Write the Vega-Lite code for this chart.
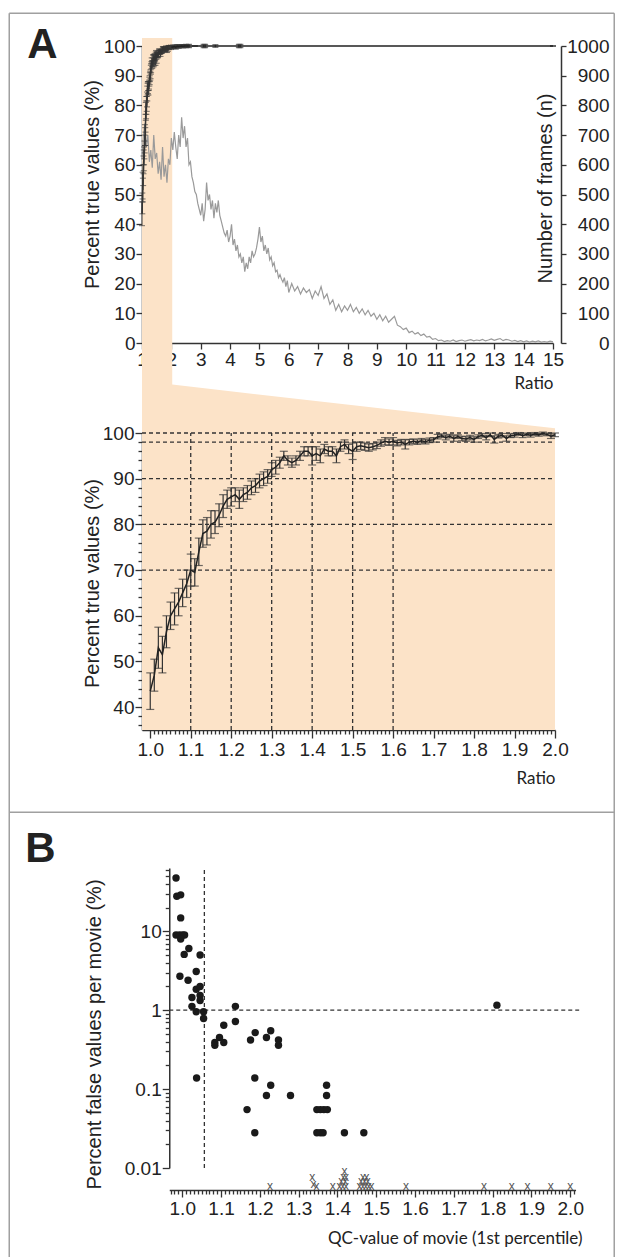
{
 "$schema": "https://vega.github.io/schema/vega-lite/v6.json",
 "background": "white",
 "padding": {"left": 8, "top": 12, "right": 4, "bottom": 0},
 "autosize": {"type": "pad"},
 "bounds": "flush",
 "spacing": 90,
 "datasets": {
  "pct": [
   {"x":1.00,"m":43.5,"y":39.5,"y2":47.5},{"x":1.01,"m":47,"y":43.5,"y2":50.5},{"x":1.02,"m":53,"y":48.5,"y2":57.5},{"x":1.03,"m":51.5,"y":47.5,"y2":55.5},{"x":1.04,"m":56.5,"y":53,"y2":60},
   {"x":1.05,"m":60,"y":57,"y2":63},{"x":1.06,"m":61.5,"y":58,"y2":65},{"x":1.07,"m":63,"y":60,"y2":66},{"x":1.08,"m":65,"y":62,"y2":68},{"x":1.09,"m":67,"y":64,"y2":70},
   {"x":1.10,"m":70,"y":66.5,"y2":73.5},{"x":1.11,"m":69.5,"y":66.5,"y2":72.5},{"x":1.12,"m":74,"y":71,"y2":77},{"x":1.13,"m":78,"y":75,"y2":81},{"x":1.14,"m":78.5,"y":75.5,"y2":81.5},
   {"x":1.15,"m":80,"y":77,"y2":83},{"x":1.16,"m":80.5,"y":78,"y2":83},{"x":1.17,"m":82,"y":79.5,"y2":84.5},{"x":1.18,"m":84,"y":81.5,"y2":86.5},{"x":1.19,"m":85.5,"y":83.5,"y2":87.5},
   {"x":1.20,"m":86,"y":84,"y2":88},{"x":1.21,"m":86.5,"y":85,"y2":88},{"x":1.22,"m":85.5,"y":83.5,"y2":87.5},{"x":1.23,"m":86.5,"y":85,"y2":88},{"x":1.24,"m":87,"y":85.5,"y2":88.5},
   {"x":1.25,"m":88,"y":86.5,"y2":89.5},{"x":1.26,"m":88.5,"y":87,"y2":90},{"x":1.27,"m":89.5,"y":88,"y2":91},{"x":1.28,"m":90,"y":88.5,"y2":91.5},{"x":1.29,"m":90.5,"y":89,"y2":92},
   {"x":1.30,"m":92,"y":90.5,"y2":93.5},{"x":1.31,"m":92.5,"y":91,"y2":94},{"x":1.32,"m":93.5,"y":92.3,"y2":94.7},{"x":1.33,"m":95,"y":94,"y2":96},{"x":1.34,"m":94,"y":93,"y2":95},
   {"x":1.35,"m":93.5,"y":92.5,"y2":94.5},{"x":1.36,"m":94,"y":93,"y2":95},{"x":1.37,"m":95,"y":94,"y2":96},{"x":1.38,"m":96,"y":95,"y2":97},{"x":1.39,"m":96,"y":95,"y2":97},
   {"x":1.40,"m":95,"y":93,"y2":97},{"x":1.41,"m":95.5,"y":94,"y2":97},{"x":1.42,"m":95,"y":93.5,"y2":96.5},{"x":1.43,"m":96.5,"y":95.5,"y2":97.5},{"x":1.44,"m":96,"y":95,"y2":97},
   {"x":1.45,"m":96,"y":95,"y2":97},{"x":1.46,"m":95,"y":93.5,"y2":96.5},{"x":1.47,"m":97,"y":96,"y2":98},{"x":1.48,"m":97.5,"y":96.5,"y2":98.5},{"x":1.49,"m":96.5,"y":95.5,"y2":97.5},
   {"x":1.50,"m":96,"y":94.2,"y2":97.8},{"x":1.51,"m":97,"y":96,"y2":98},{"x":1.52,"m":97.2,"y":96.4,"y2":98},{"x":1.53,"m":97,"y":96.2,"y2":97.8},{"x":1.54,"m":96.8,"y":96,"y2":97.6},
   {"x":1.55,"m":97,"y":96.3,"y2":97.7},{"x":1.56,"m":97.3,"y":96.6,"y2":98},{"x":1.57,"m":97.8,"y":97.1,"y2":98.5},{"x":1.58,"m":98.2,"y":97.4,"y2":99},{"x":1.59,"m":98,"y":97.3,"y2":98.7},
   {"x":1.60,"m":98.2,"y":97.4,"y2":99},{"x":1.61,"m":97.8,"y":97.2,"y2":98.4},{"x":1.62,"m":98,"y":97.4,"y2":98.6},{"x":1.63,"m":97.5,"y":96.5,"y2":98.5},{"x":1.64,"m":98,"y":97.4,"y2":98.6},
   {"x":1.65,"m":98.2,"y":97.7,"y2":98.7},{"x":1.66,"m":98,"y":97.5,"y2":98.5},{"x":1.67,"m":98.3,"y":97.8,"y2":98.8},{"x":1.68,"m":98.1,"y":97.6,"y2":98.6},{"x":1.69,"m":98.4,"y":97.9,"y2":98.9},
   {"x":1.70,"m":98.5,"y":98,"y2":99},{"x":1.71,"m":99.2,"y":98.7,"y2":99.7},{"x":1.72,"m":99.4,"y":99,"y2":99.8},{"x":1.73,"m":99,"y":98.5,"y2":99.5},{"x":1.74,"m":99.3,"y":98.9,"y2":99.7},
   {"x":1.75,"m":98.8,"y":98.2,"y2":99.4},{"x":1.76,"m":99.2,"y":98.8,"y2":99.6},{"x":1.77,"m":98.8,"y":98.3,"y2":99.3},{"x":1.78,"m":98.7,"y":98.2,"y2":99.2},{"x":1.79,"m":99,"y":98.5,"y2":99.5},
   {"x":1.80,"m":98.6,"y":98,"y2":99.2},{"x":1.81,"m":99.2,"y":98.8,"y2":99.6},{"x":1.82,"m":99.5,"y":99.1,"y2":99.9},{"x":1.83,"m":99,"y":98.5,"y2":99.5},{"x":1.84,"m":99.6,"y":99.2,"y2":100},
   {"x":1.85,"m":98.6,"y":97.8,"y2":99.4},{"x":1.86,"m":99.3,"y":98.9,"y2":99.7},{"x":1.87,"m":99.5,"y":99.1,"y2":99.9},{"x":1.88,"m":98.8,"y":98.2,"y2":99.4},{"x":1.89,"m":99.4,"y":99,"y2":99.8},
   {"x":1.90,"m":99.5,"y":99.1,"y2":99.9},{"x":1.91,"m":99.8,"y":99.5,"y2":100.1},{"x":1.92,"m":99.4,"y":99,"y2":99.8},{"x":1.93,"m":99.7,"y":99.4,"y2":100},{"x":1.94,"m":99.5,"y":99.1,"y2":99.9},
   {"x":1.95,"m":99.8,"y":99.5,"y2":100.1},{"x":1.96,"m":99.6,"y":99.3,"y2":99.9},{"x":1.97,"m":99.9,"y":99.6,"y2":100.2},{"x":1.98,"m":99.7,"y":99.4,"y2":100},{"x":1.99,"m":99.3,"y":98.8,"y2":99.8},
   {"x":2.00,"m":99.6,"y":99.2,"y2":100}
  ],
  "tail": [
   {"x":2.0,"m":99.6,"y":99.6,"y2":99.6},{"x":2.05,"m":99.7,"y":99.2,"y2":100.2},{"x":2.1,"m":99.8,"y":99.3,"y2":100.3},{"x":2.15,"m":99.6,"y":99.0,"y2":100.2},
   {"x":2.2,"m":99.9,"y":99.4,"y2":100.4},{"x":2.25,"m":99.8,"y":99.3,"y2":100.3},{"x":2.3,"m":99.9,"y":99.5,"y2":100.3},{"x":2.35,"m":100,"y":99.6,"y2":100.4},
   {"x":2.4,"m":99.9,"y":99.4,"y2":100.4},{"x":2.45,"m":100,"y":99.6,"y2":100.4},{"x":2.5,"m":100,"y":99.5,"y2":100.5},{"x":2.55,"m":100,"y":99.6,"y2":100.4},
   {"x":2.6,"m":100,"y":99.5,"y2":100.5},{"x":2.8,"m":100,"y":100,"y2":100},{"x":3.1,"m":100,"y":99.5,"y2":100.5},{"x":3.15,"m":100,"y":99.5,"y2":100.5},
   {"x":3.5,"m":100,"y":99.6,"y2":100.4},{"x":4.3,"m":100,"y":99.5,"y2":100.5},{"x":4.35,"m":100,"y":99.5,"y2":100.5},{"x":15,"m":100,"y":100,"y2":100}
  ],
  "frames": [
   {"x":1.00,"n":620},{"x":1.05,"n":700},{"x":1.10,"n":740},{"x":1.15,"n":660},{"x":1.20,"n":700},{"x":1.25,"n":610},{"x":1.30,"n":650},{"x":1.35,"n":590},{"x":1.40,"n":700},{"x":1.45,"n":620},
   {"x":1.50,"n":640},{"x":1.55,"n":570},{"x":1.60,"n":610},{"x":1.65,"n":550},{"x":1.70,"n":660},{"x":1.75,"n":560},{"x":1.80,"n":600},{"x":1.85,"n":540},{"x":1.90,"n":620},{"x":1.95,"n":600},
   {"x":2.00,"n":690},{"x":2.05,"n":650},{"x":2.10,"n":710},{"x":2.15,"n":660},{"x":2.20,"n":620},{"x":2.25,"n":700},{"x":2.30,"n":660},{"x":2.35,"n":760},{"x":2.40,"n":690},{"x":2.45,"n":730},
   {"x":2.50,"n":660},{"x":2.55,"n":690},{"x":2.60,"n":600},{"x":2.65,"n":610},{"x":2.70,"n":560},{"x":2.75,"n":540},{"x":2.80,"n":510},{"x":2.85,"n":500},{"x":2.90,"n":470},{"x":2.95,"n":450},
   {"x":3.00,"n":430},{"x":3.05,"n":470},{"x":3.10,"n":410},{"x":3.15,"n":450},{"x":3.20,"n":540},{"x":3.25,"n":480},{"x":3.30,"n":500},{"x":3.35,"n":450},{"x":3.40,"n":480},{"x":3.45,"n":420},
   {"x":3.50,"n":470},{"x":3.55,"n":440},{"x":3.60,"n":480},{"x":3.65,"n":430},{"x":3.70,"n":410},{"x":3.75,"n":390},{"x":3.80,"n":370},{"x":3.85,"n":360},{"x":3.90,"n":380},{"x":3.95,"n":340},
   {"x":4.00,"n":360},{"x":4.05,"n":400},{"x":4.10,"n":330},{"x":4.15,"n":350},{"x":4.20,"n":310},{"x":4.25,"n":330},{"x":4.30,"n":290},{"x":4.35,"n":300},{"x":4.40,"n":270},{"x":4.45,"n":290},
   {"x":4.50,"n":240},{"x":4.55,"n":270},{"x":4.60,"n":250},{"x":4.65,"n":290},{"x":4.70,"n":270},{"x":4.75,"n":310},{"x":4.80,"n":290},{"x":4.85,"n":300},{"x":4.90,"n":320},{"x":4.95,"n":350},
   {"x":5.00,"n":390},{"x":5.05,"n":340},{"x":5.10,"n":360},{"x":5.15,"n":310},{"x":5.20,"n":330},{"x":5.25,"n":300},{"x":5.30,"n":320},{"x":5.35,"n":280},{"x":5.40,"n":290},{"x":5.45,"n":260},
   {"x":5.50,"n":270},{"x":5.55,"n":240},{"x":5.60,"n":245},{"x":5.65,"n":220},{"x":5.70,"n":230},{"x":5.75,"n":215},{"x":5.80,"n":205},{"x":5.85,"n":220},{"x":5.90,"n":190},{"x":5.95,"n":210},
   {"x":6.0,"n":170},{"x":6.1,"n":200},{"x":6.2,"n":175},{"x":6.3,"n":190},{"x":6.4,"n":165},{"x":6.5,"n":185},{"x":6.6,"n":170},{"x":6.7,"n":180},{"x":6.8,"n":150},{"x":6.9,"n":175},
   {"x":7.0,"n":160},{"x":7.1,"n":190},{"x":7.2,"n":150},{"x":7.3,"n":165},{"x":7.4,"n":130},{"x":7.5,"n":145},{"x":7.6,"n":110},{"x":7.7,"n":130},{"x":7.8,"n":105},{"x":7.9,"n":125},
   {"x":8.0,"n":110},{"x":8.1,"n":130},{"x":8.2,"n":105},{"x":8.3,"n":120},{"x":8.4,"n":100},{"x":8.5,"n":115},{"x":8.6,"n":95},{"x":8.7,"n":110},{"x":8.8,"n":90},{"x":8.9,"n":100},
   {"x":9.0,"n":80},{"x":9.1,"n":95},{"x":9.2,"n":75},{"x":9.3,"n":90},{"x":9.4,"n":70},{"x":9.5,"n":80},{"x":9.6,"n":90},{"x":9.7,"n":60},{"x":9.8,"n":55},{"x":9.9,"n":45},
   {"x":10.0,"n":50},{"x":10.1,"n":35},{"x":10.2,"n":40},{"x":10.3,"n":30},{"x":10.4,"n":35},{"x":10.5,"n":25},{"x":10.6,"n":30},{"x":10.7,"n":20},{"x":10.8,"n":22},{"x":10.9,"n":12},
   {"x":11.0,"n":15},{"x":11.1,"n":8},{"x":11.2,"n":10},{"x":11.3,"n":5},{"x":11.4,"n":8},{"x":11.5,"n":6},{"x":11.6,"n":10},{"x":11.7,"n":5},{"x":11.8,"n":8},{"x":11.9,"n":10},
   {"x":12.0,"n":6},{"x":12.1,"n":9},{"x":12.2,"n":11},{"x":12.3,"n":7},{"x":12.4,"n":10},{"x":12.5,"n":8},{"x":12.6,"n":12},{"x":12.7,"n":7},{"x":12.8,"n":10},{"x":12.9,"n":14},
   {"x":13.0,"n":9},{"x":13.1,"n":12},{"x":13.2,"n":15},{"x":13.3,"n":8},{"x":13.4,"n":12},{"x":13.5,"n":10},{"x":13.6,"n":6},{"x":13.7,"n":9},{"x":13.8,"n":5},{"x":13.9,"n":8},
   {"x":14.0,"n":4},{"x":14.1,"n":7},{"x":14.2,"n":3},{"x":14.3,"n":6},{"x":14.4,"n":4},{"x":14.5,"n":7},{"x":14.6,"n":3},{"x":14.7,"n":5},{"x":14.8,"n":3},{"x":14.9,"n":6},{"x":15.0,"n":4}
  ],
  "movies": [
   {"x":0.984,"y":47.4},{"x":0.986,"y":27.9},{"x":0.996,"y":29},{"x":0.996,"y":14.8},{"x":0.984,"y":9.0},{"x":0.993,"y":9.0},{"x":1.001,"y":9.0},{"x":1.006,"y":9.0},
   {"x":0.996,"y":8.0},{"x":1.017,"y":6.07},{"x":1.005,"y":5.1},{"x":1.046,"y":5.0},{"x":0.994,"y":2.7},{"x":1.015,"y":2.4},{"x":1.036,"y":3.09},{"x":1.036,"y":1.84},
   {"x":1.046,"y":2.0},{"x":1.025,"y":1.45},{"x":1.046,"y":1.54},{"x":1.046,"y":1.33},{"x":1.025,"y":1.12},{"x":1.036,"y":0.955},{"x":1.055,"y":0.955},{"x":1.055,"y":0.785},
   {"x":1.137,"y":1.12},{"x":1.137,"y":0.72},{"x":1.107,"y":0.645},{"x":1.084,"y":0.39},{"x":1.084,"y":0.36},{"x":1.096,"y":0.45},{"x":1.107,"y":0.39},{"x":1.188,"y":0.52},
   {"x":1.176,"y":0.42},{"x":1.217,"y":0.45},{"x":1.228,"y":0.55},{"x":1.248,"y":0.42},{"x":1.248,"y":0.36},{"x":1.187,"y":0.138},{"x":1.228,"y":0.112},{"x":1.217,"y":0.083},
   {"x":1.279,"y":0.083},{"x":1.167,"y":0.055},{"x":1.187,"y":0.028},{"x":1.037,"y":0.138},{"x":1.347,"y":0.055},{"x":1.356,"y":0.055},{"x":1.365,"y":0.055},{"x":1.374,"y":0.055},
   {"x":1.372,"y":0.112},{"x":1.372,"y":0.083},{"x":1.347,"y":0.028},{"x":1.356,"y":0.028},{"x":1.363,"y":0.028},{"x":1.418,"y":0.028},{"x":1.468,"y":0.028},{"x":1.811,"y":1.16}
  ],
  "xs": [
   {"x":1.226,"y":0.0060},{"x":1.335,"y":0.0077},{"x":1.338,"y":0.0063},{"x":1.346,"y":0.0060},{"x":1.388,"y":0.0060},{"x":1.405,"y":0.0060},{"x":1.414,"y":0.0060},{"x":1.422,"y":0.0060},
   {"x":1.410,"y":0.0068},{"x":1.420,"y":0.0068},{"x":1.415,"y":0.0077},{"x":1.422,"y":0.0077},{"x":1.418,"y":0.0091},{"x":1.457,"y":0.0060},{"x":1.465,"y":0.0060},{"x":1.473,"y":0.0060},
   {"x":1.481,"y":0.0060},{"x":1.488,"y":0.0060},{"x":1.461,"y":0.0068},{"x":1.470,"y":0.0068},{"x":1.478,"y":0.0068},{"x":1.466,"y":0.0077},{"x":1.475,"y":0.0077},{"x":1.577,"y":0.0060},
   {"x":1.778,"y":0.0060},{"x":1.849,"y":0.0060},{"x":1.890,"y":0.0060},{"x":1.950,"y":0.0060},{"x":2.000,"y":0.0060}
  ]
 },
 "vconcat": [
  {
   "width": 411,
   "height": 297,
   "resolve": {"scale": {"y": "independent"}},
   "encoding": {
    "x": {"field": "x", "type": "quantitative", "scale": {"domain": [1, 15], "nice": false, "zero": false},
          "axis": {"values": [1,2,3,4,5,6,7,8,9,10,11,12,13,14,15], "labelOverlap": false, "title": "Ratio", "tickSize": 6, "labelPadding": 1,
                   "titleFont": "Lato", "titleFontSize": 17, "titleX": 411, "titleY": 40, "titleAlign": "right", "titleBaseline": "middle"}}
   },
   "layer": [
    {
     "encoding": {
      "y": {"field": "y", "type": "quantitative", "scale": {"domain": [0, 100], "nice": false, "zero": false},
            "axis": {"values": [0,10,20,30,40,50,60,70,80,90,100], "labelOverlap": false, "title": "Percent true values (%)", "tickSize": 6, "labelPadding": 1,
                     "titleX": -50, "titleY": 138, "titleAngle": -90, "titleBaseline": "middle"}}
     },
     "layer": [
      {
       "data": {"values": [{"x": 1, "x2": 2.03, "y": 102.7, "y2": -16}]},
       "mark": {"type": "rect", "color": "#fce3c8"},
       "encoding": {"x2": {"field": "x2"}, "y2": {"field": "y2"}}
      },
      {
       "data": {"values": [
        {"x": -3.522, "x2": 17.086, "y": 111.03, "y2": 111.03},
        {"x": -3.522, "x2": -3.522, "y": 111.03, "y2": -312},
        {"x": 17.086, "x2": 17.086, "y": 111.03, "y2": -312},
        {"x": -3.522, "x2": 17.086, "y": -158, "y2": -158}
       ]},
       "mark": {"type": "rule", "color": "#a0a0a0", "strokeWidth": 1.5},
       "encoding": {"x2": {"field": "x2"}, "y2": {"field": "y2"}}
      },
      {
       "data": {"values": [{"label": "A", "x": -2.909, "y": 95.9}]},
       "mark": {"type": "text", "align": "left", "baseline": "alphabetic", "font": "Liberation Sans", "fontSize": 42, "fontWeight": "bold", "color": "#222"},
       "encoding": {"text": {"field": "label"}}
      }
     ]
    },
    {
     "data": {"name": "frames"},
     "mark": {"type": "line", "color": "#9a9a9a", "strokeWidth": 1.2},
     "encoding": {
      "y": {"field": "n", "type": "quantitative", "scale": {"domain": [0, 1000], "nice": false, "zero": false},
            "axis": {"orient": "right", "offset": 8, "values": [0,100,200,300,400,500,600,700,800,900,1000], "format": "d", "labelOverlap": false, "title": "Number of frames (n)",
                     "tickSize": 5, "labelAlign": "right", "labelPadding": 43, "titleX": -16, "titleY": 142, "titleAngle": 270, "titleBaseline": "middle"}}
     }
    },
    {
     "encoding": {
      "y": {"field": "y", "type": "quantitative", "scale": {"domain": [0, 100], "nice": false, "zero": false}, "axis": null}
     },
     "layer": [
      {
       "data": {"name": "pct"},
       "mark": {"type": "errorbar", "ticks": true, "size": 6, "thickness": 1, "color": "#3a3a3a"},
       "encoding": {"y2": {"field": "y2"}}
      },
      {
       "data": {"name": "pct"},
       "mark": {"type": "line", "color": "#333", "strokeWidth": 1.5},
       "encoding": {"y": {"field": "m", "type": "quantitative", "axis": null}}
      },
      {
       "data": {"name": "tail"},
       "mark": {"type": "errorbar", "ticks": true, "size": 6, "thickness": 1.5, "color": "#3a3a3a"},
       "encoding": {"y2": {"field": "y2"}}
      },
      {
       "data": {"name": "tail"},
       "mark": {"type": "line", "color": "#222", "strokeWidth": 1.5},
       "encoding": {"y": {"field": "m", "type": "quantitative", "axis": null}}
      }
     ]
    }
   ]
  },
  {
   "width": 413,
   "height": 297,
   "encoding": {
    "x": {"field": "x", "type": "quantitative", "scale": {"domain": [0.9796, 2.0], "nice": false, "zero": false},
          "axis": {"values": [1,1.01,1.02,1.03,1.04,1.05,1.06,1.07,1.08,1.09,1.1,1.11,1.12,1.13,1.14,1.15,1.16,1.17,1.18,1.19,1.2,1.21,1.22,1.23,1.24,1.25,1.26,1.27,1.28,1.29,1.3,1.31,1.32,1.33,1.34,1.35,1.36,1.37,1.38,1.39,1.4,1.41,1.42,1.43,1.44,1.45,1.46,1.47,1.48,1.49,1.5,1.51,1.52,1.53,1.54,1.55,1.56,1.57,1.58,1.59,1.6,1.61,1.62,1.63,1.64,1.65,1.66,1.67,1.68,1.69,1.7,1.71,1.72,1.73,1.74,1.75,1.76,1.77,1.78,1.79,1.8,1.81,1.82,1.83,1.84,1.85,1.86,1.87,1.88,1.89,1.9,1.91,1.92,1.93,1.94,1.95,1.96,1.97,1.98,1.99,2],
                   "labelExpr": "abs(datum.value*10-round(datum.value*10))<0.001 ? format(datum.value,'.1f') : ''",
                   "tickSize": {"condition": {"test": "abs(datum.value*10-round(datum.value*10))<0.001", "value": 8}, "value": 4},
                   "labelOverlap": false, "labelPadding": 2, "title": "Ratio", "titleFont": "Lato", "titleFontSize": 17, "titleX": 413, "titleY": 48, "titleAlign": "right", "titleBaseline": "middle"}},
    "y": {"field": "y", "type": "quantitative", "scale": {"domain": [35, 100], "nice": false, "zero": false},
          "axis": {"values": [36,38,40,42,44,46,48,50,52,54,56,58,60,62,64,66,68,70,72,74,76,78,80,82,84,86,88,90,92,94,96,98,100],
                   "labelExpr": "datum.value%10==0 ? datum.label : ''",
                   "tickSize": {"condition": {"test": "datum.value%10==0", "value": 7}, "value": 4},
                   "labelOverlap": false, "labelPadding": 1, "title": "Percent true values (%)", "titleX": -50, "titleY": 150, "titleAngle": -90, "titleBaseline": "middle"}}
   },
   "layer": [
    {
     "data": {"values": [{"x": 0.9796, "y": 110.6, "y2": 35}, {"x": 1.0543, "y": 110.6, "y2": 35}, {"x": 2.0, "y": 101.04, "y2": 35}]},
     "mark": {"type": "area", "color": "#fce3c8"},
     "encoding": {"y2": {"field": "y2"}}
    },
    {
     "data": {"values": [{"x": 0.9796, "x2": 2.0, "y": 70}, {"x": 0.9796, "x2": 2.0, "y": 80}, {"x": 0.9796, "x2": 2.0, "y": 90}, {"x": 0.9796, "x2": 2.0, "y": 98}, {"x": 0.9796, "x2": 2.0, "y": 100}]},
     "mark": {"type": "rule", "color": "#333", "strokeDash": [4, 3], "strokeWidth": 1.3},
     "encoding": {"x2": {"field": "x2"}}
    },
    {
     "data": {"values": [{"x": 1.1, "y": 35, "y2": 100}, {"x": 1.2, "y": 35, "y2": 100}, {"x": 1.3, "y": 35, "y2": 100}, {"x": 1.4, "y": 35, "y2": 100}, {"x": 1.5, "y": 35, "y2": 100}, {"x": 1.6, "y": 35, "y2": 100}]},
     "mark": {"type": "rule", "color": "#333", "strokeDash": [4, 3], "strokeWidth": 1.3},
     "encoding": {"y2": {"field": "y2"}}
    },
    {
     "data": {"name": "pct"},
     "mark": {"type": "errorbar", "ticks": true, "size": 8, "thickness": 1.2, "color": "#333"},
     "encoding": {"y2": {"field": "y2"}}
    },
    {
     "data": {"name": "pct"},
     "mark": {"type": "line", "color": "#222", "strokeWidth": 1.5},
     "encoding": {"y": {"field": "m", "type": "quantitative"}}
    }
   ]
  },
  {
   "width": 445,
   "height": 370,
   "encoding": {
    "x": {"field": "x", "type": "quantitative", "scale": {"domain": [0.9665, 2.0137], "range": [27.25, 433.55], "nice": false, "zero": false},
          "axis": {"values": [0.97,0.98,0.99,1,1.01,1.02,1.03,1.04,1.05,1.06,1.07,1.08,1.09,1.1,1.11,1.12,1.13,1.14,1.15,1.16,1.17,1.18,1.19,1.2,1.21,1.22,1.23,1.24,1.25,1.26,1.27,1.28,1.29,1.3,1.31,1.32,1.33,1.34,1.35,1.36,1.37,1.38,1.39,1.4,1.41,1.42,1.43,1.44,1.45,1.46,1.47,1.48,1.49,1.5,1.51,1.52,1.53,1.54,1.55,1.56,1.57,1.58,1.59,1.6,1.61,1.62,1.63,1.64,1.65,1.66,1.67,1.68,1.69,1.7,1.71,1.72,1.73,1.74,1.75,1.76,1.77,1.78,1.79,1.8,1.81,1.82,1.83,1.84,1.85,1.86,1.87,1.88,1.89,1.9,1.91,1.92,1.93,1.94,1.95,1.96,1.97,1.98,1.99,2,2.01],
                   "labelExpr": "abs(datum.value*10-round(datum.value*10))<0.001 ? format(datum.value,'.1f') : ''",
                   "tickSize": {"condition": {"test": "abs(datum.value*10-round(datum.value*10))<0.001", "value": 7}, "value": 4},
                   "labelOverlap": false, "labelPadding": 2, "title": "QC-value of movie (1st percentile)", "titleFont": "Lato", "titleFontSize": 17, "titleX": 440, "titleY": 48, "titleAlign": "right", "titleBaseline": "middle"}},
    "y": {"field": "y", "type": "quantitative", "scale": {"type": "log", "domain": [0.01, 63.5], "range": [348, 48], "nice": false},
          "axis": {"offset": -27.25, "values": [0.01,0.02,0.03,0.04,0.05,0.06,0.07,0.08,0.09,0.1,0.2,0.3,0.4,0.5,0.6,0.7,0.8,0.9,1,2,3,4,5,6,7,8,9,10,20,30,40,50,60],
                   "labelExpr": "datum.value==0.01?'0.01':datum.value==0.1?'0.1':datum.value==1?'1':datum.value==10?'10':''",
                   "tickSize": {"condition": {"test": "datum.value==0.01||datum.value==0.1||datum.value==1||datum.value==10", "value": 7}, "value": 4},
                   "labelOverlap": false, "labelPadding": 1, "title": "Percent false values per movie (%)", "titleX": -75, "titleY": 214, "titleAngle": -90, "titleBaseline": "middle"}}
   },
   "layer": [
    {
     "data": {"values": [{"x": 0.9665, "x2": 2.023, "y": 1, "y2": 1}, {"x": 1.057, "x2": 1.057, "y": 0.01, "y2": 63.5}]},
     "mark": {"type": "rule", "color": "#333", "strokeDash": [4, 3], "strokeWidth": 1.3},
     "encoding": {"x2": {"field": "x2"}, "y2": {"field": "y2"}}
    },
    {
     "data": {"name": "movies"},
     "mark": {"type": "point", "shape": "circle", "filled": true, "size": 55, "color": "#1a1a1a", "opacity": 1}
    },
    {
     "data": {"name": "xs"},
     "mark": {"type": "text", "text": "x", "font": "Liberation Sans", "fontSize": 12, "color": "#555", "baseline": "middle", "align": "center"}
    },
    {
     "data": {"values": [{"label": "B", "x": 0.5954, "y": 75.1}]},
     "mark": {"type": "text", "align": "left", "baseline": "alphabetic", "font": "Liberation Sans", "fontSize": 42, "fontWeight": "bold", "color": "#222"},
     "encoding": {"text": {"field": "label"}}
    }
   ]
  }
 ],
 "config": {
  "view": {"stroke": null},
  "axis": {"grid": false, "domainColor": "#333", "tickColor": "#333", "domainWidth": 1.5, "tickWidth": 1.3,
           "labelFont": "Liberation Sans", "labelFontSize": 19, "labelColor": "#222",
           "titleFont": "Liberation Sans", "titleFontSize": 20, "titleFontWeight": "normal", "titleColor": "#222",
           "labelFlush": false, "labelOverlap": false, "zindex": 1}
 }
}
